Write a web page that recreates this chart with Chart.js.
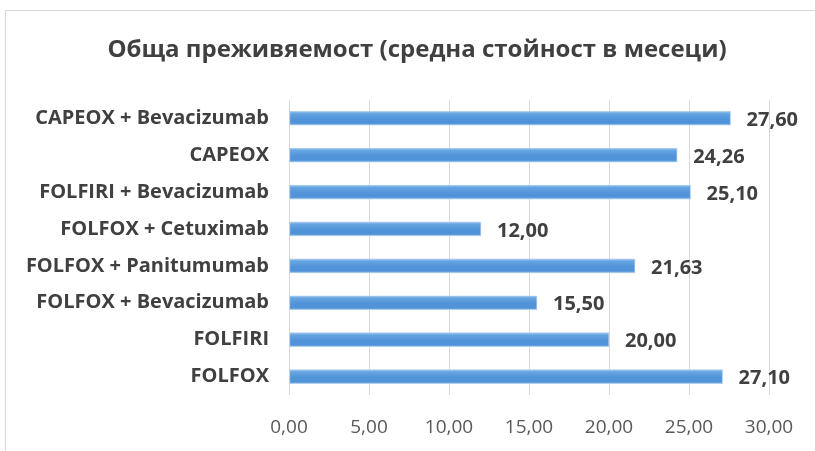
<!DOCTYPE html>
<html>
<head>
<meta charset="utf-8">
<script src="https://cdn.jsdelivr.net/npm/chart.js@4"></script>
<style>
  html, body { margin: 0; padding: 0; background: #fff; overflow: hidden; }
  #frame {
    position: absolute; left: 5px; top: 10px;
    width: 834px; height: 460px;
    border: 1px solid #d9d9d9; background: #fff;
  }
  #survivalChart { display: block; }
</style>
</head>
<body>
<div id="frame"><canvas id="survivalChart" width="822" height="460"></canvas></div>
<script>
// ==================== DATA ====================
const chartTitle = 'Обща преживяемост (средна стойност в месеци)';
const regimens = [
  'CAPEOX + Bevacizumab',
  'CAPEOX',
  'FOLFIRI + Bevacizumab',
  'FOLFOX + Cetuximab',
  'FOLFOX + Panitumumab',
  'FOLFOX + Bevacizumab',
  'FOLFIRI',
  'FOLFOX'
];
const medianMonths = [27.60, 24.26, 25.10, 12.00, 21.63, 15.50, 20.00, 27.10];
const axisMin = 0;
const axisMax = 30;
const axisStep = 5;

// Bulgarian style decimals: 27,60
const fmt = v => Number(v).toFixed(2).replace('.', ',');

const BAR_H = 14;

// Excel-like shaded bar, gradient follows each bar's own band
function barGradient(c) {
  const chart = c.chart;
  const ys = chart.scales && chart.scales.y;
  if (!ys || c.dataIndex === undefined) return '#5b9bd5';
  const yc = ys.getPixelForValue(c.dataIndex);
  if (!isFinite(yc)) return '#5b9bd5';
  const g = chart.ctx.createLinearGradient(0, yc - BAR_H / 2, 0, yc + BAR_H / 2);
  g.addColorStop(0, '#96c2ed');
  g.addColorStop(0.18, '#65a4e1');
  g.addColorStop(0.55, '#5294d9');
  g.addColorStop(0.85, '#5092d7');
  g.addColorStop(1, '#80b3e7');
  return g;
}

// value labels to the right of each bar
const valueLabels = {
  id: 'valueLabels',
  afterDatasetsDraw(chart) {
    const ctx = chart.ctx;
    const meta = chart.getDatasetMeta(0);
    ctx.save();
    ctx.font = 'bold 20px "Open Sans"';
    ctx.fillStyle = '#404040';
    ctx.textAlign = 'left';
    ctx.textBaseline = 'middle';
    meta.data.forEach((bar, i) => {
      ctx.fillText(fmt(chart.data.datasets[0].data[i]), bar.x + 16, bar.y + 2);
    });
    ctx.restore();
  }
};

const ctx = document.getElementById('survivalChart').getContext('2d');
const chart = new Chart(ctx, {
  type: 'bar',
  data: {
    labels: regimens,
    datasets: [{
      data: medianMonths,
      backgroundColor: barGradient,
      borderColor: 'rgba(165, 201, 237, 0.9)',
      borderWidth: 1,
      borderSkipped: false,
      barThickness: BAR_H
    }]
  },
  options: {
    indexAxis: 'y',
    responsive: false,
    animation: false,
    layout: { padding: 0 },
    plugins: {
      legend: { display: false },
      tooltip: { enabled: false },
      title: {
        display: true,
        text: chartTitle,
        color: '#404040',
        font: { family: 'Open Sans', size: 24, weight: 'bold' },
        padding: { top: 25, bottom: 35 }
      }
    },
    scales: {
      x: {
        min: axisMin,
        max: axisMax,
        border: { display: false },
        grid: { color: '#d9d9d9', lineWidth: 1, drawTicks: false },
        ticks: {
          stepSize: axisStep,
          color: '#595959',
          padding: 21,
          font: { family: 'Open Sans', size: 19 },
          callback: v => fmt(v)
        },
        afterFit: s => { s.height = 76; }
      },
      y: {
        border: { display: false },
        grid: { display: false, drawTicks: false },
        ticks: {
          color: '#404040',
          padding: 20,
          font: { family: 'Open Sans', size: 20, weight: 'bold' }
        },
        afterFit: s => { s.width = 283; }
      },
      // empty right-hand strip, room for the value labels
      yRight: {
        type: 'category',
        position: 'right',
        border: { display: false },
        grid: { display: false, drawTicks: false },
        ticks: { display: false },
        afterFit: s => { s.width = 59; }
      }
    }
  },
  plugins: [valueLabels]
});
// second pass so the bar gradients use the laid-out scale
chart.update();
</script>
</body>
</html>
